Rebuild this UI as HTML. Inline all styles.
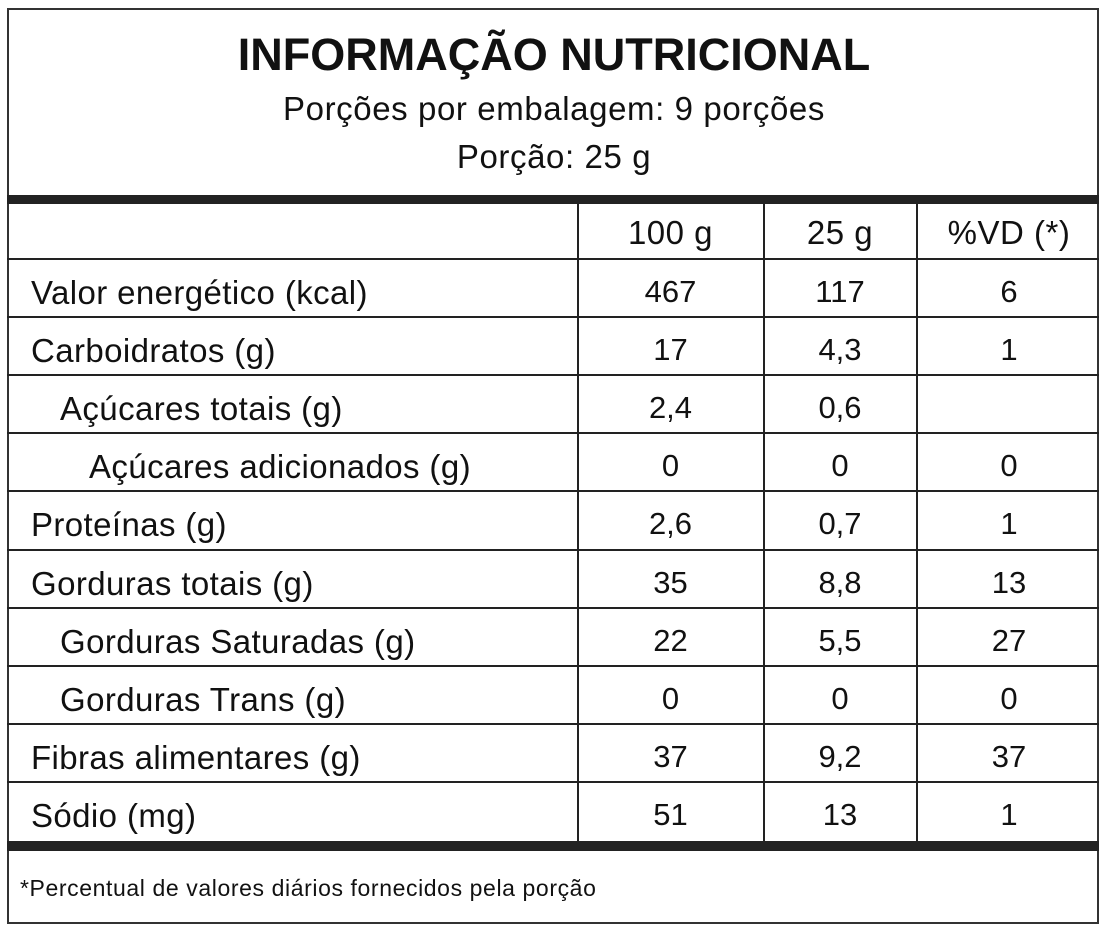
<!DOCTYPE html>
<html><head><meta charset="utf-8"><style>
body{margin:0;width:1108px;height:932px;background:#fff;position:relative;font-family:"Liberation Sans",sans-serif;color:#111;overflow:hidden}
.l{position:absolute;background:#222}
.t{position:absolute;white-space:nowrap;font-size:33px;line-height:58px;letter-spacing:0.4px}
.c{text-align:center;letter-spacing:0}
</style></head><body>
<div style="position:absolute;left:7px;top:8px;width:1092px;height:916px;border:2px solid #333;box-sizing:border-box"></div>
<div class="t c" style="left:0;width:1108px;top:26px;font-size:45px;font-weight:bold;line-height:58px">INFORMAÇÃO NUTRICIONAL</div>
<div class="t c" style="left:0;width:1108px;top:80px;font-size:33px;letter-spacing:0.6px">Porções por embalagem: 9 porções</div>
<div class="t c" style="left:0;width:1108px;top:128px;font-size:33px;letter-spacing:0.6px">Porção: 25 g</div>
<div class="l" style="left:7px;width:1092px;top:195px;height:9px"></div>
<div class="l" style="left:7px;width:1092px;top:841px;height:10px"></div>
<div class="l" style="left:577px;width:2px;top:204px;height:637px"></div>
<div class="l" style="left:763px;width:2px;top:204px;height:637px"></div>
<div class="l" style="left:916px;width:2px;top:204px;height:637px"></div>
<div class="t c" style="left:578px;width:185px;top:204px;font-size:33px;letter-spacing:0.5px">100 g</div>
<div class="t c" style="left:764px;width:152px;top:204px;font-size:33px;letter-spacing:0.5px">25 g</div>
<div class="t c" style="left:918px;width:182px;top:204px;font-size:33px;letter-spacing:0.5px">%VD (*)</div>
<div id="rows"></div>
<div class="t" style="left:20px;top:859px;font-size:23px;letter-spacing:0.6px">*Percentual de valores diários fornecidos pela porção</div>
<script>
const labels=["Valor energético (kcal)","Carboidratos (g)","Açúcares totais (g)","Açúcares adicionados (g)","Proteínas (g)","Gorduras totais (g)","Gorduras Saturadas (g)","Gorduras Trans (g)","Fibras alimentares (g)","Sódio (mg)"];
const indent=[0,0,1,2,0,0,1,1,0,0];
const v100=["467","17","2,4","0","2,6","35","22","0","37","51"];
const v25=["117","4,3","0,6","0","0,7","8,8","5,5","0","9,2","13"];
const vd=["6","1","","0","1","13","27","0","37","1"];
const r=document.getElementById('rows');
for(let i=0;i<labels.length;i++){
 const y=260+i*58.1;
 const ln=document.createElement('div');ln.className='l';
 
 
 ln.style.cssText=`left:7px;width:1092px;top:${y-2}px;height:2px`;r.appendChild(ln);
 const a=document.createElement('div');a.className='t';
 
 
 a.style.cssText=`left:${31+indent[i]*29}px;top:${y+4}px`;a.textContent=labels[i];r.appendChild(a);
 [[v100,578,185],[v25,764,152],[vd,918,182]].forEach(([arr,x,w])=>{
  const c=document.createElement('div');c.className='t c';
  
  
  c.style.cssText=`left:${x}px;width:${w}px;top:${y+3}px;font-size:31px`;c.textContent=arr[i];r.appendChild(c);
 });
}
</script>
</body></html>
